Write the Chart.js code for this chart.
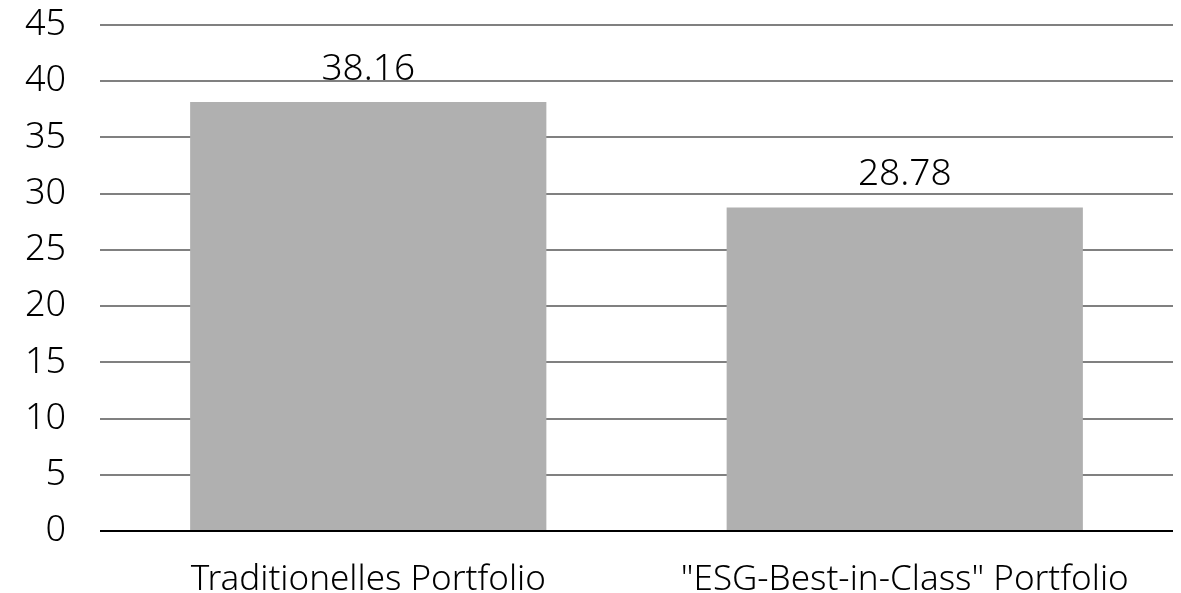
<!DOCTYPE html>
<html lang="de">
<head>
  <meta charset="UTF-8" />
  <title>Portfolio Vergleich</title>
  <script src="https://cdn.jsdelivr.net/npm/chart.js"></script>
  <style>
    html, body { margin: 0; padding: 0; background: #fff; }
    #wrap { width: 1181px; height: 593px; }
  </style>
</head>
<body>
  <div id="wrap"><canvas id="chart"></canvas></div>
  <script>
    // Daten
    const categories = ['Traditionelles Portfolio', '"ESG-Best-in-Class" Portfolio'];
    const values = [38.16, 28.78];
    const yMin = 0, yMax = 45, yStep = 5;

    const FONT = '"Noto Sans", "Open Sans", sans-serif';

    // Werte über den Balken
    const valueLabels = {
      id: 'valueLabels',
      afterDatasetsDraw(chart) {
        const { ctx } = chart;
        const meta = chart.getDatasetMeta(0);
        ctx.save();
        ctx.font = '300 37px ' + FONT;
        ctx.fillStyle = '#000';
        ctx.textAlign = 'center';
        ctx.textBaseline = 'alphabetic';
        meta.data.forEach((bar, i) => {
          ctx.fillText(values[i].toFixed(2), bar.x, bar.y - 22);
        });
        ctx.restore();
      }
    };

    new Chart(document.getElementById('chart'), {
      type: 'bar',
      data: {
        labels: categories,
        datasets: [{
          data: values,
          backgroundColor: '#b0b0b0',
          categoryPercentage: 0.664,
          barPercentage: 1.0
        }]
      },
      options: {
        responsive: true,
        maintainAspectRatio: false,
        animation: false,
        layout: { padding: { top: 25, right: 8, left: 0, bottom: 0 } },
        plugins: {
          legend: { display: false },
          tooltip: { enabled: false }
        },
        scales: {
          x: {
            grid: { display: false },
            border: { display: false },
            ticks: {
              color: '#000',
              padding: 20,
              font: { family: FONT, size: 35, weight: '300' }
            },
            afterFit(s) { s.height = 62; }
          },
          y: {
            min: yMin,
            max: yMax,
            border: { display: false },
            grid: {
              drawTicks: false,
              lineWidth: 2,
              color: c => c.tick && c.tick.value === 0 ? '#000' : '#808080'
            },
            ticks: {
              stepSize: yStep,
              color: '#000',
              padding: 34,
              font: { family: FONT, size: 36, weight: '300' }
            },
            afterFit(s) {
              s.width = 100;
              s.paddingTop = 0;
              s.paddingBottom = 0;
            }
          }
        }
      },
      plugins: [valueLabels]
    });
  </script>
</body>
</html>
